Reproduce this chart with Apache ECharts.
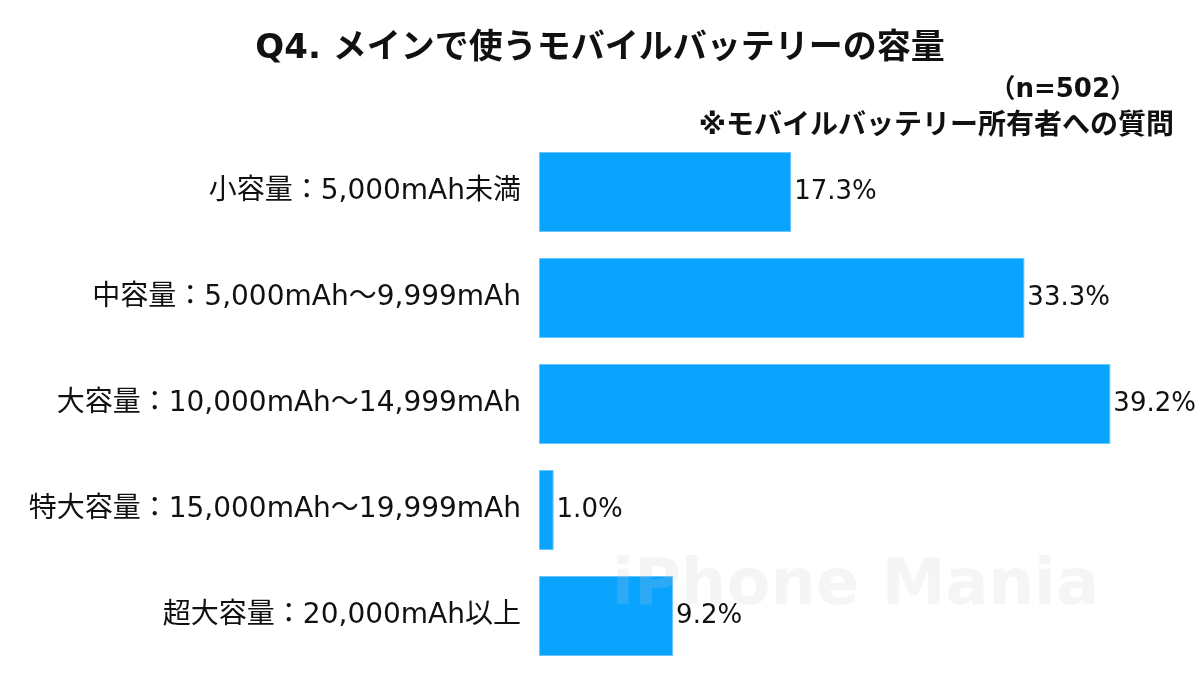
<!DOCTYPE html>
<html><head><meta charset="utf-8">
<script src="https://cdn.jsdelivr.net/npm/echarts@6/dist/echarts.min.js"></script>
<style>html,body{margin:0;padding:0;background:#fff}#c{width:1200px;height:675px}</style>
</head><body><div id="c"></div>
<script>
const categories = ['小容量：5,000mAh未満','中容量：5,000mAh〜9,999mAh','大容量：10,000mAh〜14,999mAh','特大容量：15,000mAh〜19,999mAh','超大容量：20,000mAh以上'];
const values = [17.3, 33.3, 39.2, 1.0, 9.2];
const F = '"DejaVu Sans", "Noto Sans CJK JP", sans-serif';
const chart = echarts.init(document.getElementById('c'));
chart.setOption({
  backgroundColor:'#fff',
  animation:false,
  graphic:[
    {type:'text',left:'center',top:32,style:{text:'Q4. メインで使うモバイルバッテリーの容量',font:'bold 34px '+F,fill:'#111'}},
    {type:'text',right:64,top:77,style:{text:'（n=502）',font:'bold 26px '+F,fill:'#111'}},
    {type:'text',right:26,top:113,style:{text:'※モバイルバッテリー所有者への質問',font:'bold 28px '+F,fill:'#111'}},
    {type:'text',left:612,top:555,z:100,style:{text:'iPhone Mania',font:'bold 64px '+F,fill:'rgba(200,200,200,0.18)'}}
  ],
  grid:{left:539,right:78,top:139,bottom:6},
  xAxis:{type:'value',min:0,max:40,show:false},
  yAxis:{type:'category',inverse:true,data:categories,axisLine:{show:false},axisTick:{show:false},
    axisLabel:{fontFamily:F,fontSize:28,color:'#111',margin:18}},
  series:[{type:'bar',data:values,barWidth:80,itemStyle:{color:'#0AA4FF',borderColor:'#66c4ff',borderWidth:1},
    label:{show:true,position:'right',distance:3,formatter:p=>p.value.toFixed(1)+'%',fontFamily:F,fontSize:26,color:'#111'}}]
});
</script></body></html>
